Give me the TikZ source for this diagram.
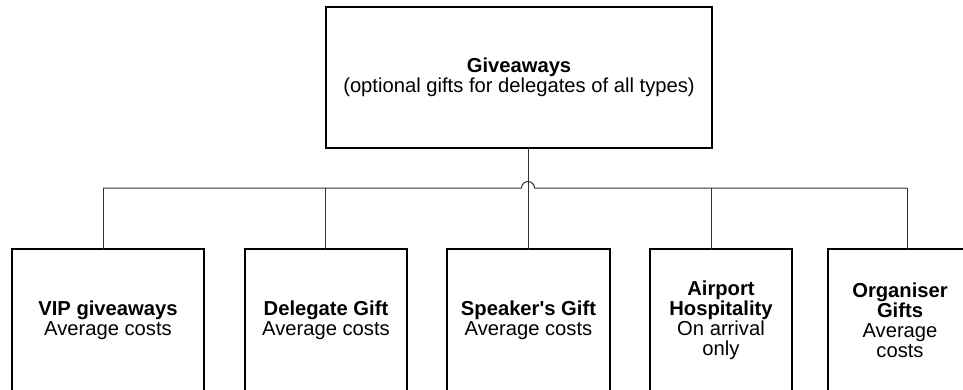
\documentclass[tikz,border=0pt]{standalone}
\usepackage{fontspec}
\setmainfont{Liberation Sans}
\begin{document}
\begin{tikzpicture}[x=1pt,y=-1pt,
  box/.style={draw=black,line width=1.3pt,rectangle,inner sep=0pt,outer sep=0pt,
    align=center,font=\fontsize{20.2}{20}\selectfont},
  link/.style={draw=black!80,line width=1pt}]
  \useasboundingbox (0,0) rectangle (963,389);
  \clip (0,0) rectangle (963,389);

  % parent box
  \node[box,minimum width=386pt,minimum height=141pt] (top) at (519,77.5)
    {\textbf{Giveaways}\\(optional gifts for delegates of all types)};

  % child boxes (running off the lower edge)
  \node[box,minimum width=192pt,minimum height=142pt] (vip) at (108,320)
    {\textbf{VIP giveaways}\\Average costs};
  \node[box,minimum width=162pt,minimum height=142pt] (del) at (326,320)
    {\textbf{Delegate Gift}\\Average costs};
  \node[box,minimum width=163pt,minimum height=142pt] (spk) at (528.5,320)
    {\textbf{Speaker\textquotesingle s Gift}\\Average costs};
  \node[box,minimum width=142pt,minimum height=142pt] (air) at (721,320)
    {\textbf{Airport}\\\textbf{Hospitality}\\On arrival\\only};
  \node[box,minimum width=144pt,minimum height=142pt] (org) at (900,320)
    {\textbf{Organiser}\\\textbf{Gifts}\\Average\\costs};

  % drop points on the horizontal bus
  \coordinate (b1) at (103,188);
  \coordinate (b2) at (325,188);
  \coordinate (b3) at (528,188);
  \coordinate (b4) at (711,188);
  \coordinate (b5) at (907,188);

  % trunk from the parent straight down to the middle child
  \draw[link] (top.south -| b3) -- (spk.north -| b3);

  % bus with a line hop over the trunk
  \draw[link] (b1) -- ([xshift=-6.5pt]b3) arc[start angle=180,end angle=0,radius=6.5pt] -- (b5);

  % drops to the children
  \draw[link] (b1) -- (vip.north -| b1);
  \draw[link] (b2) -- (del.north -| b2);
  \draw[link] (b4) -- (air.north -| b4);
  \draw[link] (b5) -- (org.north -| b5);
\end{tikzpicture}
\end{document}
